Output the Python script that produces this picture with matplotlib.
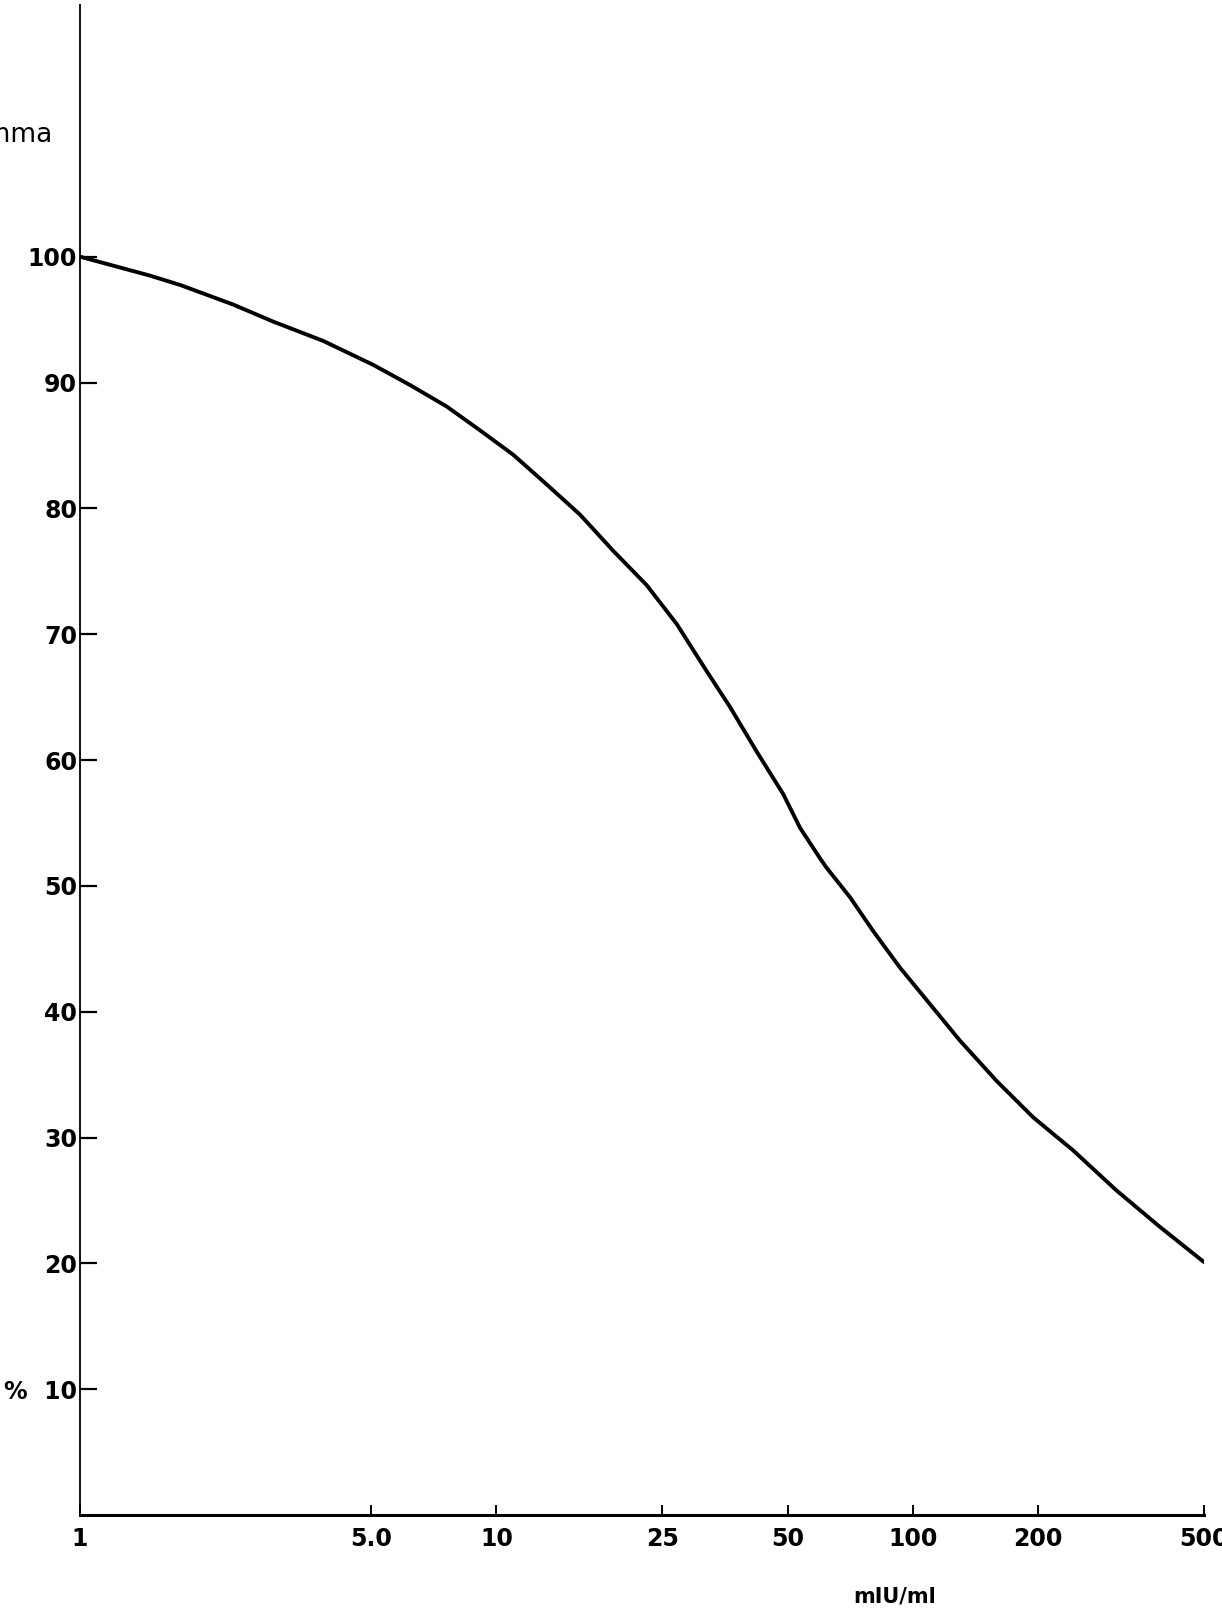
import matplotlib
matplotlib.use("Agg")
import matplotlib.pyplot as plt
from matplotlib.ticker import FixedLocator, FixedFormatter, NullLocator

# Dose-response curve: percent bound vs. concentration (mIU/ml), log scale
conc = [1.0, 1.47, 1.74, 2.33, 2.91, 3.84, 5.06, 6.2, 7.59, 9.13, 10.97,
        13.2, 15.87, 19.1, 22.94, 27.1, 31.97, 36.4, 42.1, 48.8, 53.6,
        59.8, 62.0, 70.6, 80.3, 93.1, 109.9, 129.7, 158.8, 194.5, 242.6,
        308.0, 391.7, 500.0]
percent = [100.0, 98.5, 97.75, 96.2, 94.84, 93.3, 91.4, 89.8, 88.1, 86.2,
           84.26, 81.9, 79.5, 76.6, 73.9, 70.8, 67.06, 64.2, 60.7, 57.3,
           54.6, 52.2, 51.45, 49.1, 46.4, 43.5, 40.6, 37.7, 34.5, 31.6,
           28.97, 25.8, 22.9, 20.1]

x_ticks = [1, 5, 10, 25, 50, 100, 200, 500]
x_tick_labels = ["1", "5.0", "10", "25", "50", "100", "200", "500"]
y_ticks = [10, 20, 30, 40, 50, 60, 70, 80, 90, 100]
y_tick_labels = ["%  10", "20", "30", "40", "50", "60", "70", "80", "90", "100"]

W, H = 1222, 1614
fig = plt.figure(figsize=(W / 100, H / 100), dpi=100)
fig.patch.set_facecolor("white")

left, right, bottom, top = 80, 1204, 1515, 5
ax = fig.add_axes([left / W, (H - bottom) / H, (right - left) / W, (bottom - top) / H])
ax.set_xscale("log")
ax.set_xlim(1, 500)
ax.set_ylim(0, 120)

ax.plot(conc, percent, color="black", lw=2.8, solid_capstyle="round",
        solid_joinstyle="round")

for s in ("top", "right"):
    ax.spines[s].set_visible(False)
ax.spines["left"].set_linewidth(1.3)
ax.spines["bottom"].set_linewidth(2.2)

ax.xaxis.set_major_locator(FixedLocator(x_ticks))
ax.xaxis.set_major_formatter(FixedFormatter(x_tick_labels))
ax.xaxis.set_minor_locator(NullLocator())
ax.yaxis.set_major_locator(FixedLocator(y_ticks))
ax.yaxis.set_major_formatter(FixedFormatter(y_tick_labels))

ax.tick_params(axis="x", direction="in", length=7.5, width=1.4, pad=9,
               labelsize=17)
ax.tick_params(axis="y", direction="in", length=12, width=1.6, pad=2,
               labelsize=17)
for lab in ax.get_xticklabels() + ax.get_yticklabels():
    lab.set_fontweight("bold")
    lab.set_family("DejaVu Sans")

fig.text(53 / W, 1 - 142 / H, "Gamma", ha="right", va="baseline",
         fontsize=19, family="DejaVu Sans")
fig.text(895 / W, 1 - 1596 / H, "mIU/ml", ha="center", va="center",
         fontsize=15, family="DejaVu Sans", weight="bold")

fig.savefig("out.png", dpi=100, facecolor="white")
